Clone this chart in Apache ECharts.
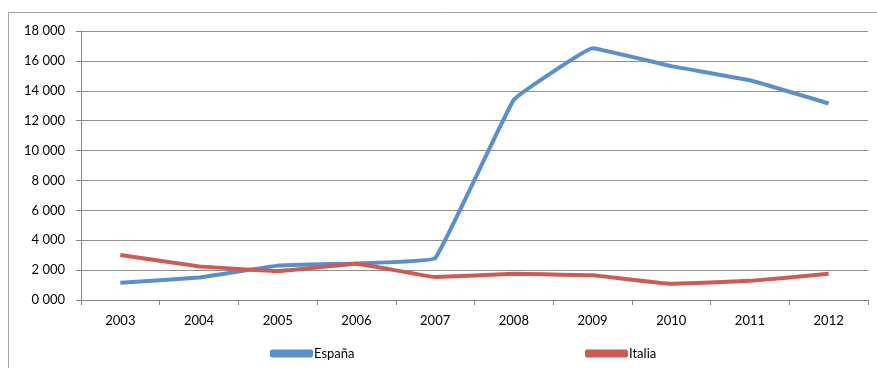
<!DOCTYPE html>
<html><head><meta charset="utf-8">
<script src="https://cdn.jsdelivr.net/npm/echarts@6/dist/echarts.min.js"></script>
<style>html,body{margin:0;padding:0;background:#fff}#c{width:877px;height:368px}</style>
</head><body><div id="c"></div>
<script>
const years = ['2003','2004','2005','2006','2007','2008','2009','2010','2011','2012'];
const espana = [1150, 1500, 2300, 2450, 2800, 13400, 16850, 15650, 14700, 13150];
const italia = [3010, 2250, 1940, 2420, 1540, 1750, 1660, 1080, 1280, 1750];
const yTicks = [0, 2000, 4000, 6000, 8000, 10000, 12000, 14000, 16000, 18000];

function fmt(v){
  const th = Math.floor(v/1000), r = v%1000;
  return th + ' ' + String(r).padStart(3,'0');
}
const chart = echarts.init(document.getElementById('c'), null, {renderer:'canvas'});
const font = 'Lato, "Open Sans", sans-serif';
chart.setOption({
  animation:false,
  graphic:[{type:'rect', shape:{x:8.5,y:12.5,width:900,height:400}, style:{fill:'none',stroke:'#a6a6a6',lineWidth:1}, silent:true}],
  grid:{left:81,right:9,top:31,bottom:68},
  legend:[
    {data:['España'], left:270, top:347, padding:0, itemWidth:43, itemHeight:8, textStyle:{fontFamily:font,fontSize:13,color:'#000',padding:[0,0,0,-4]}, icon:'roundRect'},
    {data:['Italia'], left:585, top:347, padding:0, itemWidth:43, itemHeight:8, textStyle:{fontFamily:font,fontSize:13,color:'#000',padding:[0,0,0,-4]}, icon:'roundRect'}
  ],
  xAxis:{type:'category', data:years, boundaryGap:true,
    axisLine:{lineStyle:{color:'#868686',width:1}},
    axisTick:{show:true,length:5,lineStyle:{color:'#868686'}},
    axisLabel:{color:'#000',fontFamily:font,fontSize:13,margin:14},
    splitLine:{show:false}},
  yAxis:{type:'value', min:0, max:18000, interval:2000,
    axisLine:{show:true,lineStyle:{color:'#868686',width:1}},
    axisTick:{show:true,length:5,lineStyle:{color:'#868686'}},
    axisLabel:{color:'#000',fontFamily:font,fontSize:13,margin:16,formatter:v=>fmt(v)},
    splitLine:{show:true,lineStyle:{color:'#909090',width:1}}},
  series:[
    {name:'España', type:'line', data:espana, smooth:0.07, symbol:'none', color:'#5B8FCC', lineStyle:{width:4,color:'#5B8FCC'}},
    {name:'Italia', type:'line', data:italia, smooth:0.07, symbol:'none', color:'#CC5B55', lineStyle:{width:4,color:'#CC5B55'}}
  ]
});
</script></body></html>
